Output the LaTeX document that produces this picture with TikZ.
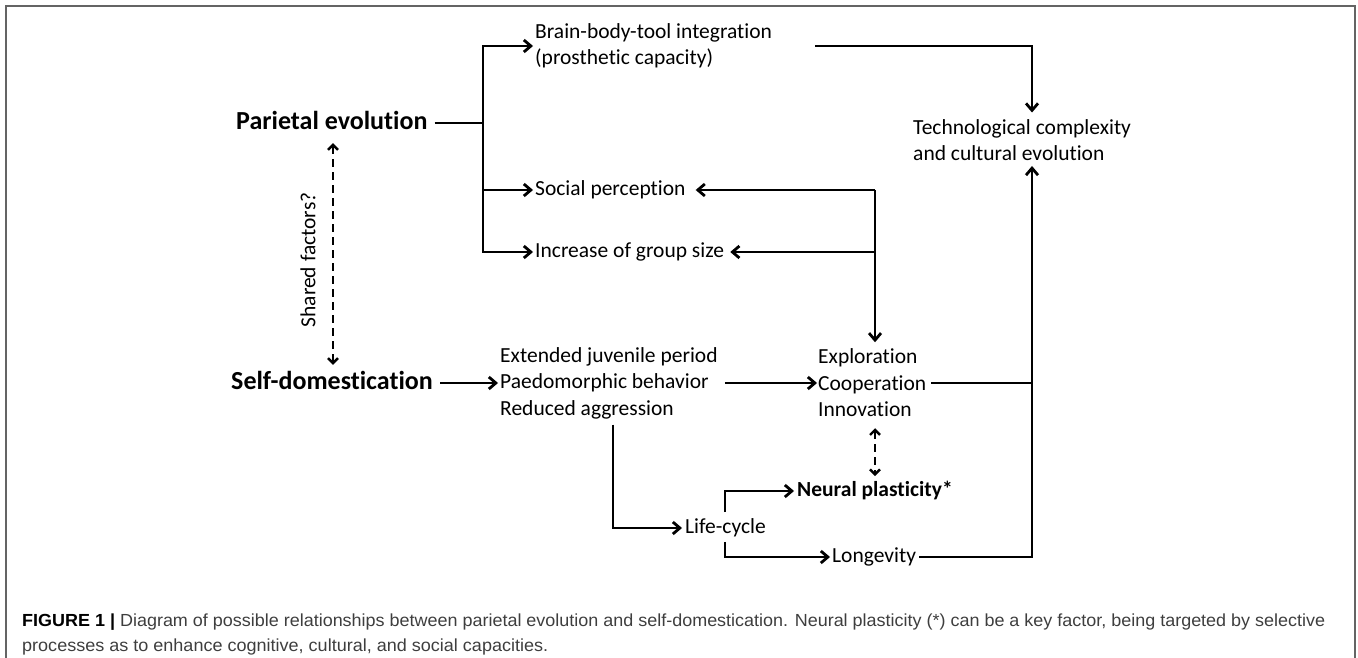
\documentclass[tikz,border=0pt]{standalone}
\usepackage{fontspec}
\usepackage{graphicx}
\setmainfont{Carlito}[RawFeature={-liga;-clig}]
\newfontfamily\capfont{Liberation Sans}
\usetikzlibrary{arrows.meta}
\definecolor{capgray}{RGB}{62,62,62}
\definecolor{framegray}{RGB}{100,100,100}
\begin{document}
\begin{tikzpicture}[x=1pt,y=-1pt,
  lbl/.style={inner sep=0pt, anchor=west, font=\fontsize{21.5}{26.5}\selectfont, text height=15pt, text depth=4.5pt},
  multi/.style={inner sep=0pt, anchor=west, align=left, font=\fontsize{21.5}{26.5}\selectfont},
  big/.style={inner sep=0pt, anchor=west, font=\fontsize{26}{30}\selectfont\bfseries, text height=18pt, text depth=5pt},
  caption/.style={inner sep=0pt, anchor=west, text=capgray, font=\capfont\fontsize{17.5}{20}\selectfont, text height=13pt, text depth=3.5pt},
  conn/.style={line width=2.8pt},
  arr/.style={conn, -{Straight Barb[length=7pt,width=12pt]}},
  darr/.style={line width=2.4pt, dash pattern=on 8pt off 5pt, {Straight Barb[length=5pt,width=10pt]}-{Straight Barb[length=5pt,width=10pt]}},
]
\useasboundingbox (0,0) rectangle (1358,658);
\draw[framegray, line width=1.5pt] (6,658) -- (6,6) -- (1355,6) -- (1355,658);

% nodes
\node[big] (pe) at (236,123) {Parietal evolution};
\node[big] (sd) at (231,383) {Self-domestication};
\node[multi] (brain) at (535,46) {Brain-body-tool integration\\(prosthetic capacity)};
\node[multi] (tech) at (913,140) {Technological complexity\\and cultural evolution};
\node[lbl] (soc) at (535,190) {Social perception};
\node[lbl] (inc) at (535,252) {Increase of group size};
\node[multi] (ejp) at (500,383) {Extended juvenile period\\Paedomorphic behavior\\Reduced aggression};
\node[multi] (eci) at (818,383) {Exploration\\Cooperation\\Innovation};
\node[lbl, font=\fontsize{21.5}{26.5}\selectfont\bfseries] (np) at (797,491) {Neural plasticity*};
\node[lbl] (lc) at (685,528) {Life-cycle};
\node[lbl] (lon) at (832,557) {Longevity};
\node[lbl, anchor=center, rotate=90] (sf) at (310,260) {Shared factors?};

\node[caption] (cap1) at (22,622) {\resizebox{1303pt}{\height}{{\color{black}\textbf{FIGURE 1 |}} Diagram of possible relationships between parietal evolution and self-domestication. Neural plasticity (*) can be a key factor, being targeted by selective}};
\node[caption] (cap2) at (22,647) {\resizebox{526pt}{\height}{processes as to enhance cognitive, cultural, and social capacities.}};

% junction coordinates
\coordinate (ja) at (483,123);
\coordinate (jb) at (875,190);
\coordinate (xC) at (1032,0);
\coordinate (xD) at (613,0);
\coordinate (xE) at (725,0);
\coordinate (xF) at (333,0);

% parietal branch
\draw[conn, shorten <=7pt] (pe.east) -- (ja);
\draw[arr, shorten >=2pt] (ja) |- (brain);
\draw[arr, shorten >=2pt] (ja) |- (soc);
\draw[arr, shorten >=2pt] (ja) |- (inc);

% brain -> tech
\draw[arr, shorten <=43pt, shorten >=6.5pt] (brain.east) -| (xC |- tech.north);

% feedback from exploration
\draw[arr, shorten >=10pt] (jb) -- (soc.east);
\draw[arr, shorten >=6pt] (jb |- inc.east) -- (inc.east);
\draw[arr, shorten >=6.5pt] (jb) -- (jb |- eci.north);

% self-domestication chain
\draw[arr, shorten <=7pt, shorten >=2pt] (sd) -- (ejp);
\draw[arr, shorten <=7pt, shorten >=1pt] (ejp) -- (eci);
\draw[conn, shorten <=5pt] (eci.east) -- (eci.east -| xC);
\draw[arr, shorten <=3pt, shorten >=5pt] (lon.east) -| (xC |- tech.south);

% reduced aggression -> life-cycle
\draw[arr, shorten <=5.5pt, shorten >=3pt] (xD |- ejp.south) |- (lc);
\draw[arr, shorten <=6pt, shorten >=3pt] (xE |- lc.north) |- (np);
\draw[arr, shorten <=4pt, shorten >=2pt] (xE |- lc.south) |- (lon);

% dashed relations
\draw[darr, shorten <=11pt, shorten >=5pt] (eci.south -| jb) -- (np.north -| jb);
\draw[darr, shorten <=8.5pt, shorten >=6.5pt] (pe.south -| xF) -- (sd.north -| xF);
\end{tikzpicture}
\end{document}
